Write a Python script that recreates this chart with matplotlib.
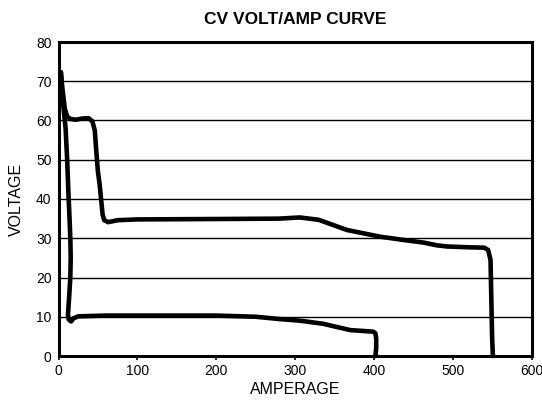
import matplotlib
matplotlib.use("Agg")
import matplotlib.pyplot as plt

# Upper curve (amperage, voltage)
upper_amps = [3, 5, 8, 11, 15, 22, 30, 38, 43, 46, 48, 50, 52, 54, 56, 58, 63, 75, 100, 200, 280, 306, 330, 366, 408, 440, 463, 480, 493, 520, 540, 545, 548, 549, 550, 551]
upper_volts = [72.3, 68, 63, 61, 60.4, 60.2, 60.5, 60.6, 59.8, 57.5, 52, 47, 44, 40, 36, 34.6, 34.1, 34.6, 34.8, 34.9, 35.0, 35.3, 34.7, 32.1, 30.4, 29.5, 28.9, 28.2, 27.9, 27.7, 27.6, 27.0, 24.5, 15, 5, 0]

# Lower curve (amperage, voltage)
lower_amps = [3, 5, 7, 9, 11, 12.5, 14, 15, 15.5, 15, 13.5, 12.5, 12, 13, 16, 19, 25, 60, 150, 200, 250, 281, 306, 336, 355, 370, 385, 399, 402, 403, 403, 402]
lower_volts = [72.3, 66, 62, 58, 50, 42, 35, 30, 25, 20, 15, 12, 10.5, 9.3, 8.8, 9.6, 10.1, 10.3, 10.3, 10.3, 10.0, 9.4, 9.0, 8.2, 7.3, 6.6, 6.4, 6.2, 5.8, 4.5, 2, 0]

x_ticks = [0, 100, 200, 300, 400, 500, 600]
y_ticks = [0, 10, 20, 30, 40, 50, 60, 70, 80]

plt.rcParams['font.family'] = ['Liberation Sans', 'DejaVu Sans']

fig = plt.figure(figsize=(5.42, 4.12), dpi=100)
ax = fig.add_axes([58.5 / 542, 1 - 356 / 412, (531.5 - 58.5) / 542, (356 - 42) / 412])

ax.set_xlim(0, 600)
ax.set_ylim(0, 80)
ax.set_xticks(x_ticks)
ax.set_yticks(y_ticks)

ax.yaxis.grid(True, color='black', linewidth=1.0)
ax.set_axisbelow(True)

ax.plot(upper_amps, upper_volts, color='black', linewidth=3.3, solid_joinstyle='round', solid_capstyle='round', clip_on=False, zorder=3)
ax.plot(lower_amps, lower_volts, color='black', linewidth=3.3, solid_joinstyle='round', solid_capstyle='round', clip_on=False, zorder=3)

for s in ax.spines.values():
    s.set_linewidth(2.2)
    s.set_color('black')

ax.tick_params(axis='x', length=3, width=1.2, labelsize=10, pad=3)
ax.tick_params(axis='y', length=0, labelsize=10, pad=5)

ax.set_xlabel('AMPERAGE', fontsize=11.5, labelpad=3)
ax.set_ylabel('VOLTAGE', fontsize=11.5, labelpad=9)
ax.set_title('CV VOLT/AMP CURVE', fontsize=12.5, fontweight='bold', pad=13)

fig.savefig('out.png', dpi=100)
